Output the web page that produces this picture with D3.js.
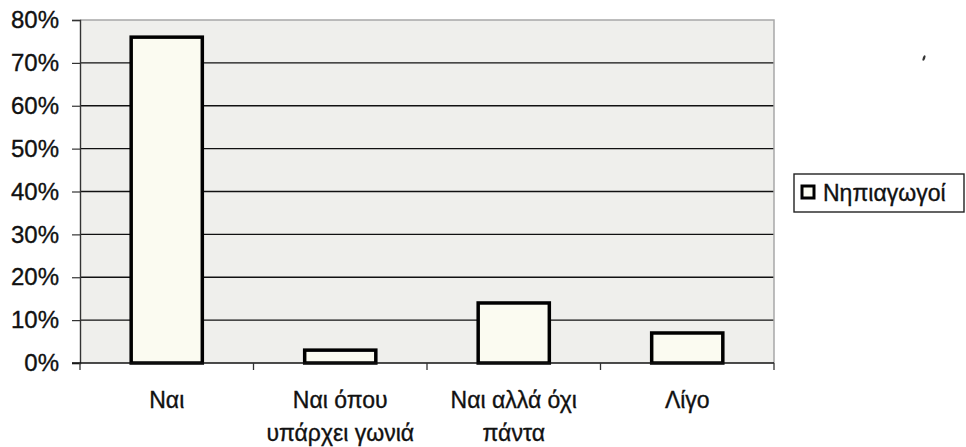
<!DOCTYPE html>
<html>
<head>
<meta charset="utf-8">
<script src="https://cdn.jsdelivr.net/npm/d3@7"></script>
<style>
  body { margin: 0; background: #fff; }
  text { font-family: "Liberation Sans", Arial, sans-serif; fill: #111; stroke: #111; stroke-width: 0.35; }
</style>
</head>
<body>
<div id="chart"></div>
<script>
// data
const categories = [["Ναι"], ["Ναι όπου", "υπάρχει γωνιά"], ["Ναι αλλά όχι", "πάντα"], ["Λίγο"]];
const values = [0.76, 0.03, 0.14, 0.07];
const seriesName = "Νηπιαγωγοί";
const yTicks = [0, 0.1, 0.2, 0.3, 0.4, 0.5, 0.6, 0.7, 0.8];

// layout
const WIDTH = 966;
const HEIGHT = 447;
const plot = { left: 80, right: 774, top: 20, bottom: 363 };
const BAR_FILL = "#fbfbf1";
const PLOT_BG = "#efefec";

const svg = d3.select("#chart")
  .append("svg")
  .attr("width", WIDTH)
  .attr("height", HEIGHT);

const x = d3.scaleBand()
  .domain(d3.range(categories.length))
  .range([plot.left, plot.right])
  .paddingInner(0.59)
  .paddingOuter(0.295);

const y = d3.scaleLinear()
  .domain([0, 0.8])
  .range([plot.bottom, plot.top]);

// plot background
svg.append("rect")
  .attr("x", plot.left)
  .attr("y", plot.top)
  .attr("width", plot.right - plot.left)
  .attr("height", plot.bottom - plot.top)
  .attr("fill", PLOT_BG);

// grid lines
svg.append("g")
  .selectAll("line")
  .data(yTicks.filter(d => d > 0 && d < 0.8))
  .enter()
  .append("line")
  .attr("x1", plot.left)
  .attr("x2", plot.right)
  .attr("y1", d => y(d))
  .attr("y2", d => y(d))
  .attr("stroke", "#111")
  .attr("stroke-width", 1.4);

// top + right frame (gray)
svg.append("path")
  .attr("d", `M${plot.left},${y(0.8)}H${plot.right}V${plot.bottom}`)
  .attr("fill", "none")
  .attr("stroke", "#a8a8a8")
  .attr("stroke-width", 1.5);

// y axis
const yAxis = d3.axisLeft(y)
  .tickValues(yTicks)
  .tickFormat(d3.format(".0%"))
  .tickSize(8)
  .tickPadding(13);

svg.append("g")
  .attr("transform", `translate(${plot.left},0)`)
  .call(yAxis)
  .call(g => g.select(".domain").attr("stroke", "#333").attr("stroke-width", 1.4))
  .call(g => g.selectAll(".tick line").attr("stroke", "#333").attr("stroke-width", 1.2))
  .call(g => g.selectAll(".tick text")
    .attr("font-size", 24)
    .attr("font-family", "Liberation Sans, Arial, sans-serif")
    .attr("fill", "#111"));

// bars
svg.append("g")
  .selectAll("rect")
  .data(values)
  .enter()
  .append("rect")
  .attr("x", (d, i) => x(i))
  .attr("y", d => y(d))
  .attr("width", x.bandwidth())
  .attr("height", d => y(0) - y(d))
  .attr("fill", BAR_FILL)
  .attr("stroke", "#000")
  .attr("stroke-width", 3.5);

// x axis line + ticks between categories
const step = x.step();
const boundaries = d3.range(categories.length + 1).map(i => plot.left + i * step);

svg.append("line")
  .attr("x1", plot.left - 8)
  .attr("x2", plot.right)
  .attr("y1", plot.bottom)
  .attr("y2", plot.bottom)
  .attr("stroke", "#111")
  .attr("stroke-width", 1.6);

svg.append("g")
  .selectAll("line")
  .data(boundaries)
  .enter()
  .append("line")
  .attr("x1", d => d)
  .attr("x2", d => d)
  .attr("y1", plot.bottom)
  .attr("y2", plot.bottom + 7)
  .attr("stroke", "#333")
  .attr("stroke-width", 1.3);

// category labels
const labels = svg.append("g")
  .selectAll("text")
  .data(categories)
  .enter()
  .append("text")
  .attr("text-anchor", "middle")
  .attr("font-size", 23)
  .attr("transform", (d, i) => `translate(${x(i) + x.bandwidth() / 2},408)`);

labels.selectAll("tspan")
  .data(d => d)
  .enter()
  .append("tspan")
  .attr("x", 0)
  .attr("dy", (d, i) => i === 0 ? 0 : 33)
  .text(d => d);

// legend
const legend = svg.append("g").attr("transform", "translate(794,174)");

legend.append("rect")
  .attr("width", 170)
  .attr("height", 38)
  .attr("fill", "#fff")
  .attr("stroke", "#222")
  .attr("stroke-width", 1.4);

legend.append("rect")
  .attr("x", 8)
  .attr("y", 12)
  .attr("width", 12)
  .attr("height", 12)
  .attr("fill", BAR_FILL)
  .attr("stroke", "#000")
  .attr("stroke-width", 3);

legend.append("text")
  .attr("x", 29)
  .attr("y", 27)
  .attr("font-size", 23)
  .text(seriesName);

// small scan speck at top right
svg.append("ellipse")
  .attr("cx", 924)
  .attr("cy", 58)
  .attr("rx", 1.2)
  .attr("ry", 3)
  .attr("transform", "rotate(20,924,58)")
  .attr("fill", "#333");
</script>
</body>
</html>
